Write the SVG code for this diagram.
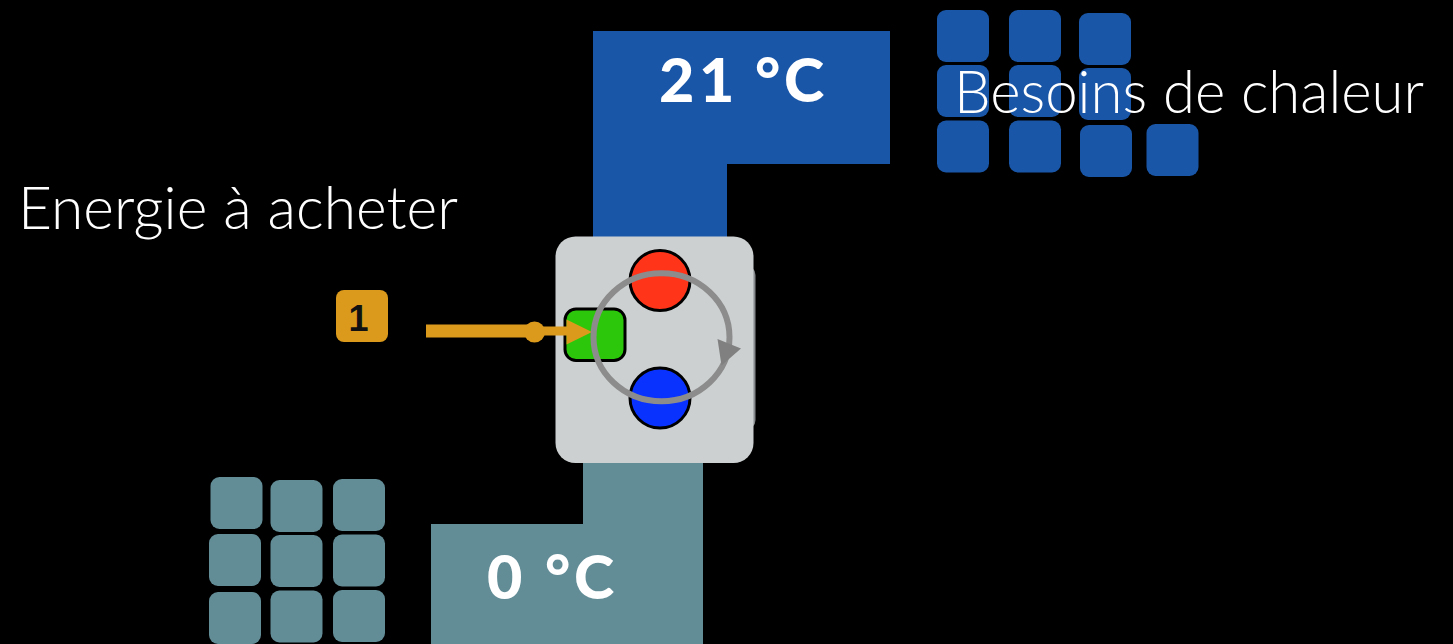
<svg xmlns="http://www.w3.org/2000/svg" width="1453" height="644" viewBox="0 0 1453 644">
<style>
.b{fill:#1a56a8}.t{fill:#628c96}
.lt{font-family:Lato,"Open Sans","Liberation Sans",sans-serif;font-weight:300;font-size:60px;fill:#fff}
.hd{font-family:Lato,"Open Sans","Liberation Sans",sans-serif;font-weight:900;font-size:61px;fill:#fff}
.c{stroke:#000;stroke-width:3}
</style>
<rect width="1453" height="644" fill="#000"/>
<g id="hot-zone"><path class="b" d="M593 31H890V164H727V240H593Z"/><text class="hd" x="659 699 0 755 784" y="102">21 °C</text></g>
<g id="cold-zone"><path class="t" d="M583 460H703V644H431V524H583Z"/><text class="hd" x="487 0 545 574" y="598.500">0 °C</text></g>
<g id="heat-units">
<rect class="b" x="937" y="10" width="52" height="52" rx="9"/><rect class="b" x="1009" y="10" width="52" height="52" rx="9"/><rect class="b" x="1079" y="13" width="52" height="52" rx="9"/>
<rect class="b" x="937" y="65" width="52" height="52" rx="9"/><rect class="b" x="1009" y="65" width="52" height="52" rx="9"/><rect class="b" x="1079" y="68" width="52" height="52" rx="9"/>
<rect class="b" x="937" y="120.500" width="52" height="52" rx="9"/><rect class="b" x="1009" y="120.500" width="52" height="52" rx="9"/><rect class="b" x="1080" y="125" width="52" height="52" rx="9"/><rect class="b" x="1146.500" y="124" width="52" height="52" rx="9"/>
</g>
<g id="cold-units">
<rect class="t" x="210.500" y="477" width="52" height="52" rx="9"/><rect class="t" x="270.500" y="480" width="52" height="52" rx="9"/><rect class="t" x="333" y="479" width="52" height="52" rx="9"/>
<rect class="t" x="209" y="534" width="52" height="52" rx="9"/><rect class="t" x="270.500" y="535" width="52" height="52" rx="9"/><rect class="t" x="333" y="534.500" width="52" height="52" rx="9"/>
<rect class="t" x="209" y="592" width="52" height="52" rx="9"/><rect class="t" x="270.500" y="590.500" width="52" height="52" rx="9"/><rect class="t" x="333" y="590" width="52" height="52" rx="9"/>
</g>
<g id="label-need"><text class="lt" x="954" y="113" textLength="470" lengthAdjust="spacingAndGlyphs">Besoins de chaleur</text></g>
<g id="label-buy"><text class="lt" x="18" y="228.500" textLength="440" lengthAdjust="spacingAndGlyphs">Energie à acheter</text></g>
<g id="pump">
<rect x="600" y="265" width="155.500" height="165" rx="10" fill="#85898b"/>
<rect x="555.500" y="236.500" width="198" height="226.500" rx="20" fill="#cdd0d1"/>
<circle cx="660" cy="280.500" r="30" fill="#ff3419" class="c"/>
<circle cx="660" cy="398" r="30" fill="#0a32ff" class="c"/>
<rect x="565" y="309" width="60" height="51.500" rx="11" fill="#2cc70a" class="c"/>
</g>
<g id="badge"><rect x="336" y="290" width="52" height="52" rx="8" fill="#dc9a1c"/><text x="358.500" y="331" text-anchor="middle" font-family="Liberation Sans,sans-serif" font-weight="700" font-size="36" fill="#111">1</text></g>
<g id="connectors">
<path d="M426 331H536" stroke="#dc9a1c" stroke-width="13" fill="none"/>
<circle cx="534.500" cy="332" r="10.500" fill="#dc9a1c"/>
<path d="M536 331H570" stroke="#dc9a1c" stroke-width="9" fill="none"/>
<path d="M566.500 319.500L592 332L566.500 344.500Z" fill="#dc9a1c"/>
<ellipse cx="661.500" cy="337.300" rx="68" ry="64" fill="none" stroke="#8c8c8c" stroke-width="6"/>
<path d="M717.500 339L741 348.500L721.500 365.500Z" fill="#808080"/>
</g>
</svg>
